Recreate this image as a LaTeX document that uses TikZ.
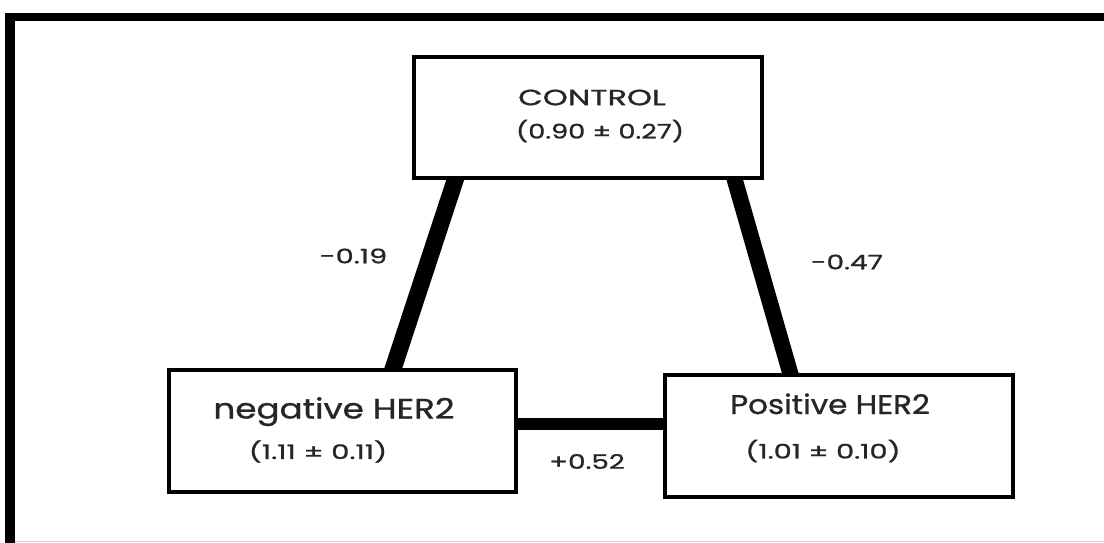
\documentclass[tikz,border=0pt]{standalone}
\usepackage{fontspec}
\setmainfont{Poppins}[FakeBold=0.9, Numbers=Monospaced]
\usetikzlibrary{backgrounds,calc}
\begin{document}
\begin{tikzpicture}[x=1pt,y=-1pt,
  box/.style={draw=black, line width=3.5pt, fill=white, inner sep=0pt},
  conn/.style={draw=black, line width=#1},
  lbl/.style={inner sep=0pt, text=black!85},
  fhuge/.style={font=\fontsize{28}{33}\selectfont},
  fbig/.style={font=\fontsize{27}{32}\selectfont},
  fmid/.style={font=\fontsize{22}{26}\selectfont},
  fsml/.style={font=\fontsize{20}{24}\selectfont}]
\useasboundingbox (0,0) rectangle (1104,543);
% frame
\fill[black] (5,13) rectangle (1104,21);
\fill[black] (5,13) rectangle (15,543);
\draw[black!18, line width=1pt] (15,541.5) -- (1104,541.5);
% boxes
\node[box, minimum width=348pt, minimum height=121pt] (ctrl) at (588,117.5) {};
\node[box, minimum width=347pt, minimum height=122pt] (neg) at (342.5,431) {};
\node[box, minimum width=348pt, minimum height=122pt] (pos) at (839,436) {};
% connector end points
\coordinate (cLt) at ($(ctrl.south west)+(43,0)$);
\coordinate (cLb) at ($(neg.north west)+(226,0)$);
\coordinate (cRt) at ($(ctrl.south east)+(-29,0)$);
\coordinate (cRb) at ($(pos.north west)+(127,0)$);
\coordinate (cHl) at ($(neg.east)+(0,-7)$);
\coordinate (cHr) at ($(pos.west)+(0,-12)$);
\begin{scope}[on background layer]
  \fill[white] (0,0) rectangle (1104,543);
  \draw[conn=17pt] ($(cLt)!-10pt!(cLb)$) -- ($(cLb)!-10pt!(cLt)$);
  \draw[conn=16pt] ($(cRt)!-10pt!(cRb)$) -- ($(cRb)!-10pt!(cRt)$);
  \draw[conn=12pt] ($(cHl)+(-10,0)$) -- ($(cHr)+(10,0)$);
\end{scope}
% texts
\node[lbl, fmid] (tctrl) at (592,97.5) {\scalebox{1.45}[1]{CONTROL}};
\node[lbl, fsml] (vctrl) at (600,131) {\scalebox{1.36}[1]{(0.90 ± 0.27)}};
\node[lbl, fhuge, anchor=base] (tneg) at (334,418.5) {\scalebox{1.22}[1]{negative HER2}};
\node[lbl, fsml] (vneg) at (318,451.5) {\scalebox{1.45}[1]{(1.11 ± 0.11)}};
\node[lbl, fbig, anchor=base] (tpos) at (830,414) {\scalebox{1.15}[1]{Positive HER2}};
\node[lbl, fsml] (vpos) at (823,451) {\scalebox{1.44}[1]{(1.01 ± 0.10)}};
\node[lbl, fsml] (eH) at (587,461.5) {\scalebox{1.39}[1]{+0.52}};
\node[lbl, fsml] (eL) at (353.5,256) {\scalebox{1.44}[1]{-0.19}};
\node[lbl, fsml] (eR) at (847,262) {\scalebox{1.4}[1]{-0.47}};
\end{tikzpicture}
\end{document}
